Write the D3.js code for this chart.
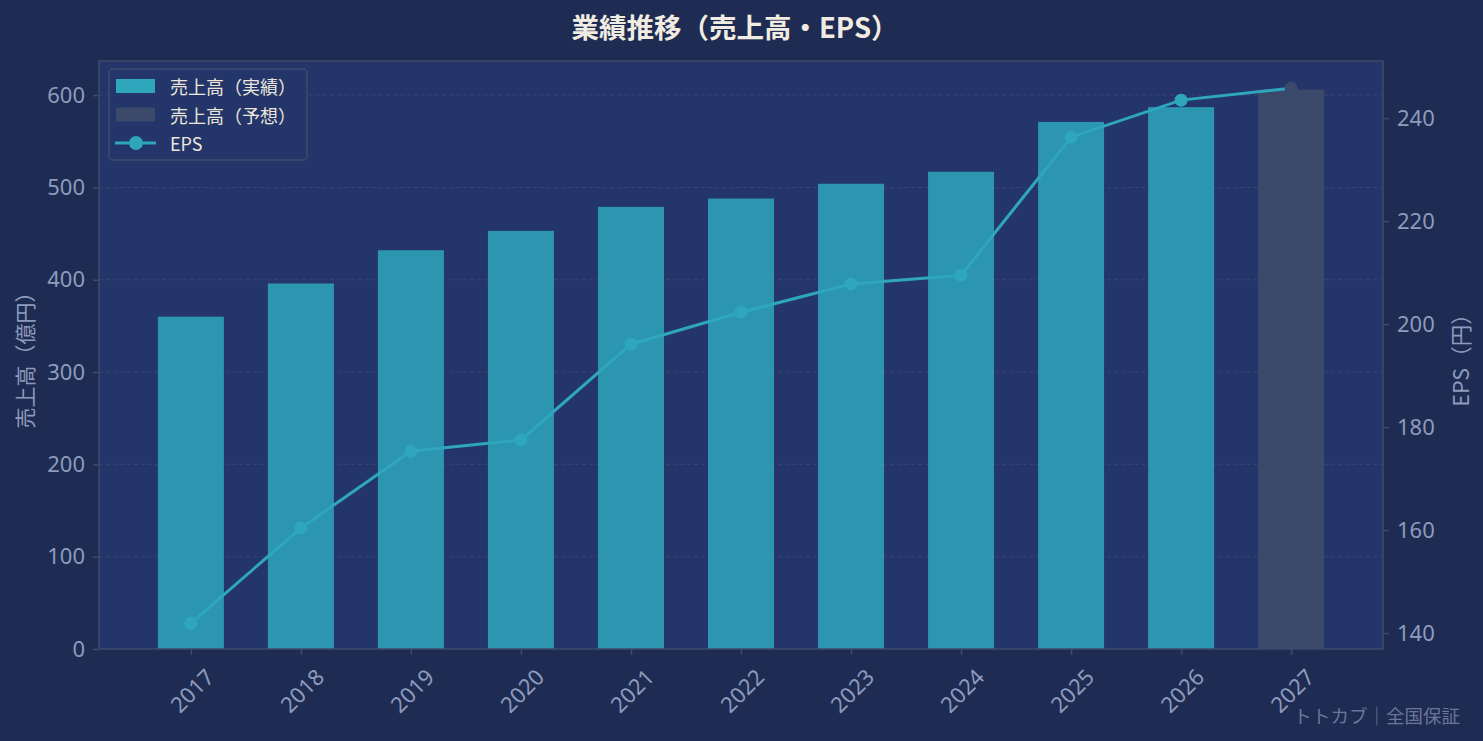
<!DOCTYPE html>
<html>
<head>
<meta charset="utf-8">
<script src="https://cdn.jsdelivr.net/npm/d3@7"></script>
<style>
  body { margin: 0; background: #1e2b52; }
  svg { display: block; }
  text { font-family: "Noto Sans CJK JP", "Noto Sans", sans-serif; }
</style>
</head>
<body>
<svg width="1483" height="741"></svg>
<script>
// data
const years = ["2017","2018","2019","2020","2021","2022","2023","2024","2025","2026","2027"];
const sales = [360, 396, 432, 453, 479, 488, 504, 517, 571, 587, 606];
const eps = [141.9, 160.4, 175.3, 177.5, 196.1, 202.3, 207.8, 209.5, 236.3, 243.5, 245.8];
const forecastYears = ["2027"];
const salesTicks = [0, 100, 200, 300, 400, 500, 600];
const epsTicks = [140, 160, 180, 200, 220, 240];

const W = 1483, H = 741;
const m = { left: 99, right: 100, top: 61, bottom: 92 };
const plotW = W - m.left - m.right;
const plotH = H - m.top - m.bottom;

const teal = "#2ea6bc";
const fcColor = "#3b4a6b";
const tickColor = "#8e9bbd";
const spineColor = "#3e4b6d";

const svg = d3.select("svg");

const x = d3.scalePoint().domain(years).range([0, plotW]).padding(0.835);
const yL = d3.scaleLinear().domain([0, 637]).range([plotH, 0]);
const yR = d3.scaleLinear().domain([136.9, 251.1]).range([plotH, 0]);
const barW = x.step() * 0.6;

// title
svg.append("text")
  .attr("x", m.left + plotW / 2 - 6).attr("y", 26)
  .attr("text-anchor", "middle").attr("dominant-baseline", "central")
  .style("font-size", "27.5px").style("font-weight", "bold").style("fill", "#f1ece1")
  .text("業績推移（売上高・EPS）");

const g = svg.append("g").attr("transform", `translate(${m.left},${m.top})`);

g.append("rect").attr("width", plotW).attr("height", plotH).style("fill", "#24356a");

// grid
g.selectAll(".grid").data(salesTicks.slice(1)).enter()
  .append("line")
  .attr("x1", 0).attr("x2", plotW)
  .attr("y1", d => yL(d)).attr("y2", d => yL(d))
  .style("stroke", "#ffffff").style("stroke-opacity", 0.08)
  .style("stroke-dasharray", "4,3").style("stroke-width", 1);

// bars
g.selectAll(".bar").data(years).enter()
  .append("rect")
  .attr("class", "bar")
  .attr("x", d => x(d) - barW / 2)
  .attr("y", (d, i) => yL(sales[i]))
  .attr("width", barW)
  .attr("height", (d, i) => plotH - yL(sales[i]))
  .style("fill", d => forecastYears.includes(d) ? fcColor : teal)
  .style("opacity", d => forecastYears.includes(d) ? 1 : 0.85);

// EPS line
const line = d3.line().x((d, i) => x(years[i])).y(d => yR(d));
g.append("path").datum(eps)
  .attr("d", line)
  .style("fill", "none").style("stroke", teal).style("stroke-width", 3);

g.selectAll(".pt").data(years).enter()
  .append("circle")
  .attr("cx", d => x(d))
  .attr("cy", (d, i) => yR(eps[i]))
  .attr("r", 6.5)
  .style("fill", d => forecastYears.includes(d) ? fcColor : teal);

// axes
const axL = g.append("g").call(d3.axisLeft(yL).tickValues(salesTicks).tickSize(6).tickPadding(8));
const axR = g.append("g").attr("transform", `translate(${plotW},0)`)
  .call(d3.axisRight(yR).tickValues(epsTicks).tickSize(6).tickPadding(8));
const axB = g.append("g").attr("transform", `translate(0,${plotH})`)
  .call(d3.axisBottom(x).tickSize(6));

[axL, axR, axB].forEach(a => {
  a.select(".domain").remove();
  a.selectAll("line").style("stroke", spineColor).style("stroke-width", 1.5);
  a.selectAll("text").style("fill", tickColor).style("font-size", "22px")
    .style("font-family", "'Noto Sans', sans-serif");
});

axB.selectAll("text")
  .attr("y", 0).attr("dy", null)
  .attr("transform", "translate(0,41) rotate(-45)")
  .attr("text-anchor", "middle")
  .attr("dominant-baseline", "central");

// spines
g.append("rect").attr("width", plotW).attr("height", plotH)
  .style("fill", "none").style("stroke", spineColor).style("stroke-width", 1.5);

// axis labels
svg.append("text")
  .attr("transform", `translate(24,${m.top + plotH / 2}) rotate(-90)`)
  .attr("text-anchor", "middle").attr("dominant-baseline", "central")
  .style("font-size", "21px").style("fill", tickColor)
  .text("売上高（億円）");

svg.append("text")
  .attr("transform", `translate(1459,${m.top + plotH / 2}) rotate(-90)`)
  .attr("text-anchor", "middle").attr("dominant-baseline", "central")
  .style("font-size", "21.5px").style("fill", tickColor)
  .text("EPS（円）");

// legend
const lg = svg.append("g").attr("transform", "translate(109,69)");
lg.append("rect").attr("width", 198).attr("height", 91).attr("rx", 4)
  .style("fill", "#24356a").style("stroke", spineColor).style("stroke-width", 1.5);

const legendItems = [
  { label: "売上高（実績）", type: "bar", color: teal },
  { label: "売上高（予想）", type: "bar", color: fcColor },
  { label: "EPS", type: "line", color: teal }
];
legendItems.forEach((d, i) => {
  const cy = 17 + i * 28.5;
  if (d.type === "bar") {
    lg.append("rect").attr("x", 7).attr("y", cy - 7).attr("width", 39).attr("height", 14).style("fill", d.color);
  } else {
    lg.append("line").attr("x1", 6).attr("x2", 47).attr("y1", cy).attr("y2", cy)
      .style("stroke", d.color).style("stroke-width", 3);
    lg.append("circle").attr("cx", 27).attr("cy", cy).attr("r", 7).style("fill", d.color);
  }
  lg.append("text").attr("x", 61).attr("y", cy)
    .attr("dominant-baseline", "central")
    .style("font-size", "18px").style("fill", "#ebe6dc")
    .text(d.label);
});

// watermark
svg.append("text")
  .attr("x", 1460).attr("y", 715)
  .attr("text-anchor", "end").attr("dominant-baseline", "central")
  .style("font-size", "18.5px").style("fill", "#6a7699")
  .text("トトカブ｜全国保証");
</script>
</body>
</html>
